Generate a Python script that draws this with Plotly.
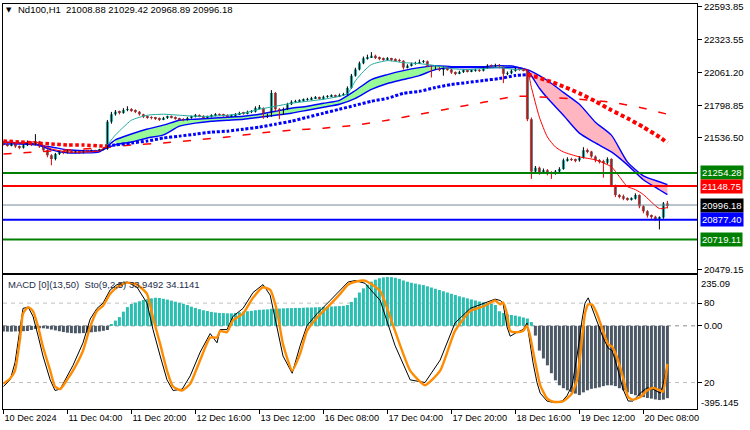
import plotly.graph_objects as go

# ---------------- DATA ----------------
tick_idx = [0, 16, 32, 48, 64, 80, 96, 112, 128, 144, 160]
tick_labels = ["10 Dec 2024", "11 Dec 04:00", "11 Dec 20:00", "12 Dec 16:00", "13 Dec 12:00",
               "16 Dec 08:00", "17 Dec 04:00", "17 Dec 20:00", "18 Dec 16:00", "19 Dec 12:00",
               "20 Dec 08:00"]

first_open = 21496
closes = [21486, 21476, 21491, 21466, 21456, 21476, 21496, 21481, 21506, 21466, 21436, 21396, 21366,
          21406, 21426, 21416, 21431, 21421, 21426, 21416, 21431, 21426, 21436, 21431, 21441, 21446,
          21666, 21726, 21746, 21736, 21761, 21766, 21756, 21746, 21726,
          21706, 21701, 21696, 21691, 21686, 21696, 21706, 21701, 21691, 21686, 21681, 21696, 21706,
          21716, 21711, 21701, 21706, 21716, 21726, 21721, 21716, 21711, 21716, 21726, 21736, 21731, 21746,
          21746, 21776, 21776, 21706, 21716, 21896, 21766, 21726, 21766, 21806, 21826,
          21831, 21836, 21841, 21846, 21856, 21861, 21851, 21866, 21871, 21876, 21871, 21881, 21886,
          21936, 22036, 22086, 22136, 22176, 22186, 22196, 22181, 22171, 22166, 22171, 22164, 22161, 22156,
          22101, 22116, 22131, 22136, 22146, 22151, 22116, 22096, 22101, 22086, 22101, 22086, 22061, 22056,
          22066, 22076, 22071, 22076, 22081, 22076, 22096, 22116, 22111, 22121, 22106, 22051, 22056, 22076,
          22091, 22086, 22081,
          21686, 21266, 21296, 21261, 21276, 21256, 21251, 21266, 21286, 21356, 21366, 21361, 21356, 21376,
          21436, 21426, 21386, 21356, 21346, 21336, 21366,
          21156, 21076, 21066, 21046, 21041, 21046, 21076, 20986, 20946, 20911, 20901, 20886, 20896,
          21008.88, 20996.18]
highs = [21510, 21495, 21500, 21498, 21475, 21485, 21515, 21505, 21566, 21512, 21472, 21445, 21405,
         21415, 21435, 21432, 21440, 21436, 21433, 21430, 21438, 21437, 21442, 21440, 21448, 21455,
         21680, 21745, 21760, 21755, 21775, 21790, 21775, 21765, 21752,
         21730, 21715, 21710, 21705, 21700, 21705, 21715, 21716, 21708, 21698, 21695, 21705, 21715,
         21728, 21725, 21718, 21714, 21726, 21735, 21733, 21730, 21725, 21724, 21735, 21746, 21745, 21755,
         21760, 21790, 21800, 21782, 21730, 21920, 21905, 21775, 21780, 21818, 21838,
         21842, 21846, 21852, 21858, 21866, 21872, 21868, 21876, 21880, 21886, 21884, 21892, 21898,
         21950, 22050, 22100, 22150, 22190, 22205, 22225, 22205, 22190, 22182, 22185, 22180, 22176, 22172,
         22160, 22128, 22142, 22148, 22166, 22162, 22158, 22122, 22112, 22110, 22110, 22108, 22092, 22070,
         22076, 22086, 22085, 22086, 22092, 22090, 22106, 22128, 22126, 22132, 22130, 22112, 22070, 22088,
         22102, 22100, 22096,
         22090, 21700, 21310, 21305, 21290, 21285, 21268, 21278, 21300, 21370, 21380, 21376, 21370, 21390,
         21461, 21450, 21432, 21395, 21365, 21360, 21380,
         21372, 21160, 21085, 21080, 21058, 21058, 21090, 21082, 20995, 20955, 20920, 20910, 20905,
         21020, 21029.42]
lows = [21475, 21465, 21468, 21455, 21445, 21450, 21470, 21470, 21475, 21455, 21425, 21380, 21316,
        21355, 21398, 21405, 21410, 21412, 21414, 21408, 21410, 21418, 21420, 21424, 21425, 21435,
        21440, 21650, 21715, 21725, 21730, 21750, 21745, 21735, 21715,
        21695, 21690, 21685, 21680, 21672, 21678, 21688, 21692, 21682, 21675, 21670, 21675, 21690,
        21700, 21702, 21692, 21694, 21700, 21710, 21712, 21706, 21702, 21704, 21710, 21720, 21722, 21725,
        21735, 21740, 21765, 21690, 21695, 21705, 21750, 21686, 21720, 21760, 21800,
        21818, 21824, 21828, 21834, 21838, 21848, 21842, 21845, 21858, 21864, 21862, 21865, 21874,
        21880, 21930, 22028, 22078, 22128, 22165, 22178, 22170, 22160, 22155, 22158, 22152, 22150, 22145,
        22085, 22095, 22110, 22124, 22130, 22138, 22105, 22021, 22085, 22072, 22036, 22075, 22050, 22040,
        22048, 22058, 22062, 22064, 22068, 22066, 22070, 22090, 22100, 22104, 22095, 21976, 22040, 22048,
        22068, 22075, 22070,
        21670, 21206, 21250, 21240, 21248, 21235, 21206, 21240, 21255, 21280, 21345, 21350, 21340, 21345,
        21370, 21412, 21375, 21340, 21330, 21216, 21325,
        21140, 21060, 21050, 21035, 21030, 21032, 21040, 20970, 20930, 20895, 20885, 20870, 20800,
        20885, 20968.89]

# trend-coloured dotted moving average
ma_idx = [0, 4, 8, 12, 16, 20, 24, 26, 28, 32, 36, 40, 44, 48, 52, 56, 60, 64, 68, 72, 76, 80, 84, 88,
          92, 96, 100, 104, 108, 112, 116, 120, 124, 128, 131, 132, 136, 140, 144, 148, 152, 156, 160,
          164, 166]
ma_vals = [21511, 21503, 21495, 21487, 21479, 21479, 21471, 21471, 21479, 21495, 21511, 21535, 21550,
           21566, 21582, 21590, 21606, 21622, 21646, 21670, 21702, 21734, 21766, 21798, 21830, 21854,
           21894, 21910, 21941, 21965, 21981, 21997, 22013, 22037, 22045, 22037, 21997, 21949, 21894,
           21830, 21758, 21694, 21622, 21543, 21495]

# slow dashed moving average
slow_idx = [0, 8, 16, 24, 32, 40, 48, 56, 64, 72, 80, 88, 96, 104, 112, 120, 128, 136, 144, 152, 160, 166]
slow_vals = [21407, 21423, 21439, 21455, 21479, 21495, 21519, 21543, 21574, 21598, 21614, 21638,
             21678, 21726, 21774, 21822, 21870, 21862, 21846, 21822, 21774, 21726]

# cloud (two blue averages)
cloud_idx = [0, 4, 8, 12, 16, 20, 24, 28, 32, 36, 40, 44, 48, 52, 56, 60, 64, 68, 72, 76, 80, 84, 88,
             92, 96, 100, 104, 108, 112, 116, 120, 124, 128, 131, 134, 136, 140, 144, 148, 152, 156,
             160, 164, 166]
cloud_fast = [21503, 21495, 21487, 21440, 21415, 21415, 21424, 21520, 21567, 21607, 21638, 21678,
              21686, 21694, 21702, 21710, 21726, 21750, 21774, 21790, 21814, 21838, 21917, 22005,
              22045, 22077, 22101, 22117, 22109, 22109, 22109, 22117, 22109,
              22077, 21935, 21856, 21718, 21574, 21495, 21423, 21319, 21199, 21119, 21080]
cloud_slow = [21487, 21487, 21480, 21463, 21440, 21432, 21432, 21480, 21503, 21535, 21560, 21630,
              21655, 21670, 21678, 21686, 21702, 21718, 21734, 21758, 21782, 21806, 21854, 21925,
              21973, 22005, 22037, 22085, 22101, 22101, 22101, 22101, 22101,
              22085, 22037, 21997, 21902, 21806, 21662, 21558, 21343, 21231, 21183, 21160]

# thin fast average (teal in uptrend, red otherwise)
thin_idx = [0, 4, 8, 12, 16, 20, 24, 26, 28, 30, 32, 36, 40, 44, 48, 52, 56, 60, 64, 68, 72, 76, 80,
            84, 86, 88, 90, 92, 96, 100, 104, 108, 112, 116, 120, 124, 128, 130, 131, 132, 134, 136,
            138, 140, 144, 148, 152, 154, 156, 158, 160, 164, 166]
thin_vals = [21503, 21495, 21503, 21447, 21423, 21423, 21431, 21479, 21559, 21622, 21678,
             21718, 21726, 21718, 21710, 21710, 21718, 21734, 21766, 21790, 21814, 21830, 21846, 21870,
             21890, 21995, 22070, 22125, 22157, 22141, 22133, 22117, 22093, 22085, 22093, 22101, 22085,
             22085, 22077, 21942, 21702, 21543, 21463, 21423,
             21383, 21359, 21303, 21224, 21144, 21120, 21080, 20968, 20976]

# horizontal levels
level_prices = [21254.28, 21148.75, 20996.18, 20877.40, 20719.11]
level_colors = ["#008000", "#FF0000", "#778899", "#0000FF", "#008000"]
level_label_bg = ["#008000", "#FF0000", "#000000", "#0000FF", "#008000"]
level_widths = [2, 2, 1, 2, 2]

price_ticks = [22593.85, 22323.55, 22061.20, 21798.85, 21536.50, 20479.15]

# MACD histogram (one value per bar)
macd_hist = [-27, -28, -28, -27, -27, -26, -25, -20, -15, -12, -12, -14,
             -18, -22, -26, -30, -33, -35, -36, -36, -35, -33, -31, -29, -27, -24, -20,
             8,
             25, 42, 68, 90, 105, 112, 118, 124, 128, 132, 135, 134, 130, 126, 121, 116, 111, 106, 100, 92,
             86, 80, 75, 71, 67, 64, 62, 61, 60, 60, 62, 65, 68, 70, 72, 75, 77, 78, 79, 82,
             82, 83, 84, 85, 85, 86, 86, 87, 88, 88, 89, 90, 91, 92, 93, 94, 95, 96,
             100, 115, 135, 160, 180, 198, 212, 222, 229, 233, 235, 234, 231, 226, 218, 212, 207, 203,
             199, 196, 190, 184, 178, 172, 166, 160, 154, 148, 142, 137, 132, 127, 122, 117, 113, 110,
             106, 100,
             70, 62, 55, 52, 49, 45, 40, 35, 18,
             -47, -119, -157, -190, -228, -262, -286, -300, -310, -319, -326, -333, -320, -310, -303,
             -300, -296, -290, -286, -286, -290, -300, -310, -320, -328, -334, -338, -343, -347, -350,
             -354, -357, -355, -348]

# Stochastic (positions in bar units)
sto_x = [0, 1.7, 2.9, 4.2, 4.9, 6.2, 7.4, 8.7, 9.9, 11.7, 12.9, 14.2, 15.9, 17.4, 19.9, 21.7, 23.4,
         24.9, 26.7, 28.4, 30.9, 33.4, 35.9, 37.4, 39.2, 40.9, 42.4, 44.7, 46.7, 49.2, 51.7, 53.4,
         54.2, 55.9, 57.4, 59.9, 62.4, 64.9, 66.7, 68.4, 69.9, 72.2, 74.2, 75.9, 78.4, 81.7, 84.2,
         86.2, 87.9, 90.4, 94.2, 97.9, 101.7, 105.4, 109.2, 112.9, 116.7, 120.4, 122.9, 124.2,
         124.9, 125.9, 126.7, 128.4, 129.9, 130.9, 131.7, 132.4, 133.4, 134.2, 135.9, 137.4, 139.7,
         140.9, 142.2, 143.4, 144.7, 145.4, 146.2, 147.2, 148.4, 149.9, 151.2, 152.2, 153.4, 154.9,
         156.2, 157.4, 159.2, 160.9, 162.4, 164.2, 164.9, 166]
sto_signal = [19, 23, 29, 54, 72, 77, 74, 62, 47, 29, 17, 15, 22, 29, 44, 62, 74, 78, 87, 92,
              95.5, 94, 87, 69, 49, 29, 17, 14, 19, 37, 54, 54, 59, 58, 67, 72, 84, 92, 90, 74,
              49, 29, 42, 59, 69, 79, 87, 94, 96, 97, 89, 59, 29, 18, 29, 59, 74, 78, 82, 79,
              80.5, 72, 59, 58, 59, 63, 55, 44, 29, 18, 8, 5.5, 5.5, 8, 12, 22, 54, 72, 79, 79,
              72, 59, 49, 47, 39, 24, 9, 7, 9, 14, 16, 14, 13, 34.1141]
sto_main = [17, 22, 35, 62, 76, 77, 70, 55, 40, 22, 14, 15, 25, 33, 50, 68, 76, 80, 90, 94,
            96, 92, 80, 60, 40, 22, 14, 15, 25, 43, 57, 50, 60, 60, 70, 76, 88, 94, 86, 62,
            40, 27, 48, 63, 72, 82, 90, 96, 97, 95, 82, 48, 22, 20, 37, 65, 76, 80, 83, 82,
            80, 62, 55, 58, 60, 65, 48, 35, 20, 12, 6, 5, 6, 10, 18, 40, 68, 80, 84, 76,
            66, 54, 46, 44, 32, 15, 6, 6, 12, 16, 15, 12, 18, 33.9492]

header_text = "Nd100,H1  21008.88 21029.42 20968.89 20996.18"
sub_text = "MACD [0](13,50)  Sto(9,2,5) 33.9492 34.1141"

# ---------------- BUILD ----------------
N = len(closes)
assert len(highs) == N and len(lows) == N and len(macd_hist) == N
assert len(sto_x) == len(sto_signal) == len(sto_main)
idx = list(range(N))
opens = [first_open] + closes[:-1]

FONT = "Liberation Sans"
fig = go.Figure()


def pick(ix, vals, a, b):
    xs = [i for i in ix if a <= i <= b]
    ys = [v for i, v in zip(ix, vals) if a <= i <= b]
    return xs, ys


# cloud fills
for a, b, col in [(28, 131, "#98FB98"), (131, 166, "#FFB6C1")]:
    xs, ys = pick(cloud_idx, cloud_slow, a, b)
    fig.add_trace(go.Scatter(x=xs, y=ys, mode="lines", line=dict(width=0, shape="spline", smoothing=0.6),
                             hoverinfo="skip", xaxis="x", yaxis="y"))
    xs, ys = pick(cloud_idx, cloud_fast, a, b)
    fig.add_trace(go.Scatter(x=xs, y=ys, mode="lines", line=dict(width=0, shape="spline", smoothing=0.6),
                             fill="tonexty", fillcolor=col, hoverinfo="skip", xaxis="x", yaxis="y"))

# cloud lines
for vals in (cloud_slow, cloud_fast):
    fig.add_trace(go.Scatter(x=cloud_idx, y=vals, mode="lines",
                             line=dict(color="#0000FF", width=1.4, shape="spline", smoothing=0.6),
                             xaxis="x", yaxis="y"))

# slow dashed MA
fig.add_trace(go.Scatter(x=slow_idx, y=slow_vals, mode="lines",
                         line=dict(color="#FF0000", width=1.5, dash="8px,12px", shape="spline", smoothing=0.6),
                         xaxis="x", yaxis="y"))

# dotted trend MA
for a, b, col, w, dsh in [(0, 26, "#FF0000", 3.5, "3.5px,2.5px"), (26, 131, "#0000FF", 3, "3px,1.8px"),
                          (131, 166, "#FF0000", 4, "4px,2.8px")]:
    xs, ys = pick(ma_idx, ma_vals, a, b)
    fig.add_trace(go.Scatter(x=xs, y=ys, mode="lines",
                             line=dict(color=col, width=w, dash=dsh, shape="spline", smoothing=0.6),
                             xaxis="x", yaxis="y"))

# candles: wicks
wx_up, wy_up, wx_dn, wy_dn = [], [], [], []
for i in idx:
    if closes[i] >= opens[i]:
        wx_up += [i, i, None]
        wy_up += [lows[i], highs[i], None]
    else:
        wx_dn += [i, i, None]
        wy_dn += [lows[i], highs[i], None]
fig.add_trace(go.Scatter(x=wx_up, y=wy_up, mode="lines", line=dict(color="#000000", width=1),
                         xaxis="x", yaxis="y"))
fig.add_trace(go.Scatter(x=wx_dn, y=wy_dn, mode="lines", line=dict(color="#E00000", width=1),
                         xaxis="x", yaxis="y"))
# candles: bodies
body_base = [min(o, c) for o, c in zip(opens, closes)]
body_h = [max(abs(c - o), 4) for o, c in zip(opens, closes)]
body_col = ["#20B2AA" if c >= o else "#6B6B6B" for o, c in zip(opens, closes)]
fig.add_trace(go.Bar(x=idx, y=body_h, base=body_base, width=0.75, marker=dict(color=body_col, line=dict(width=0)),
                     xaxis="x", yaxis="y"))

# thin fast line
for a, b, col in [(0, 26, "#FF0000"), (26, 130, "#20A89E"), (130, 166, "#FF0000")]:
    xs, ys = pick(thin_idx, thin_vals, a, b)
    fig.add_trace(go.Scatter(x=xs, y=ys, mode="lines",
                             line=dict(color=col, width=1, shape="spline", smoothing=0.6),
                             xaxis="x", yaxis="y"))

# MACD histogram (lower panel, base axis y2)
hist_col = ["#2BBFB2" if v >= 0 else "#4C5866" for v in macd_hist]
fig.add_trace(go.Bar(x=idx, y=macd_hist, width=0.75, marker=dict(color=hist_col, line=dict(width=0)),
                     xaxis="x2", yaxis="y2"))

# Stochastic (overlay axis y3)
fig.add_trace(go.Scatter(x=sto_x, y=sto_main, mode="lines", line=dict(color="#000000", width=1),
                         xaxis="x2", yaxis="y3"))
fig.add_trace(go.Scatter(x=sto_x, y=sto_signal, mode="lines",
                         line=dict(color="#FF8C00", width=2.4, shape="spline", smoothing=0.5),
                         xaxis="x2", yaxis="y3"))

# ---------------- LAYOUT ----------------
XR = [-0.1, 173.4]
axis_common = dict(showline=True, linecolor="#000000", linewidth=1, mirror=True, showgrid=False,
                   zeroline=False)

shapes = []
for p, c, w in zip(level_prices, level_colors, level_widths):
    shapes.append(dict(type="line", xref="paper", x0=0, x1=1, yref="y", y0=p, y1=p,
                       line=dict(color=c, width=w), layer="above"))
for lv in (80, 20):
    shapes.append(dict(type="line", xref="paper", x0=0, x1=1, yref="y3", y0=lv, y1=lv,
                       line=dict(color="#C0C0C0", width=1, dash="4px,4px"), layer="below"))
shapes.append(dict(type="line", xref="paper", x0=0, x1=1, yref="y2", y0=0, y1=0,
                   line=dict(color="#8C8C8C", width=1, dash="4px,4px"), layer="below"))

annotations = []
for p, bg in zip(level_prices, level_label_bg):
    annotations.append(dict(x=1, xref="paper", xanchor="left", xshift=3, y=p, yref="y", yanchor="middle",
                            text=f"{p:.2f}", showarrow=False, bgcolor=bg, borderpad=1,
                            font=dict(family=FONT, size=9.5, color="#FFFFFF")))
annotations.append(dict(x=0, xref="paper", xanchor="left", xshift=1, y=0.9853, yref="paper",
                        yanchor="middle", text="▼", showarrow=False,
                        font=dict(family="DejaVu Sans", size=7, color="#000000")))
annotations.append(dict(x=0, xref="paper", xanchor="left", xshift=13, y=0.9853, yref="paper",
                        yanchor="middle", text=header_text, showarrow=False,
                        font=dict(family=FONT, size=9.5, color="#000000")))
annotations.append(dict(x=0, xref="paper", xanchor="left", xshift=3, y=0.3076, yref="paper",
                        yanchor="middle", text=sub_text, showarrow=False,
                        font=dict(family=FONT, size=9.5, color="#1C2C48")))
annotations.append(dict(x=1, xref="paper", xanchor="left", xshift=2, y=0.3088, yref="paper",
                        yanchor="middle", text="235.09", showarrow=False,
                        font=dict(family=FONT, size=9.5, color="#000000")))
annotations.append(dict(x=1, xref="paper", xanchor="left", xshift=2, y=0.0154, yref="paper",
                        yanchor="middle", text="-395.145", showarrow=False,
                        font=dict(family=FONT, size=9.5, color="#000000")))

fig.update_layout(
    width=750, height=430, margin=dict(l=3, r=53, t=1, b=21),
    paper_bgcolor="#FFFFFF", plot_bgcolor="#FFFFFF", showlegend=False, barmode="overlay",
    font=dict(family=FONT, size=9.5, color="#000000"),
    xaxis=dict(domain=[0, 1], anchor="y", range=XR, showticklabels=False, ticks="", **axis_common),
    yaxis=dict(domain=[0.337, 1], anchor="x", side="right", range=[20453.6, 22612.2],
               tickvals=price_ticks, ticktext=[f"{v:.2f}" for v in price_ticks],
               ticks="outside", ticklen=4, tickcolor="#000000", ticklabeloverflow="allow",
               tickfont=dict(family=FONT, size=9.5, color="#000000"), **axis_common),
    xaxis2=dict(domain=[0, 1], anchor="y2", range=XR, tickvals=tick_idx, ticktext=tick_labels,
                ticks="outside", ticklen=4, tickcolor="#000000", ticklabelposition="outside right",
                ticklabeloverflow="allow",
                tickfont=dict(family=FONT, size=9.2, color="#000000"), **axis_common),
    yaxis2=dict(domain=[0, 0.3309], anchor="x2", side="right", range=[-400, 244.4],
                tickvals=[0], ticktext=["0.00"], ticks="outside", ticklen=4, tickcolor="#000000",
                tickfont=dict(family=FONT, size=9.5, color="#000000"), **axis_common),
    yaxis3=dict(overlaying="y2", anchor="x2", side="right", range=[0, 101.25],
                tickvals=[80, 20], ticktext=["80", "20"], ticks="outside", ticklen=4,
                tickcolor="#000000", showgrid=False, zeroline=False, showline=False,
                tickfont=dict(family=FONT, size=9.5, color="#000000")),
    shapes=shapes, annotations=annotations,
)

fig.write_html("out.html")
